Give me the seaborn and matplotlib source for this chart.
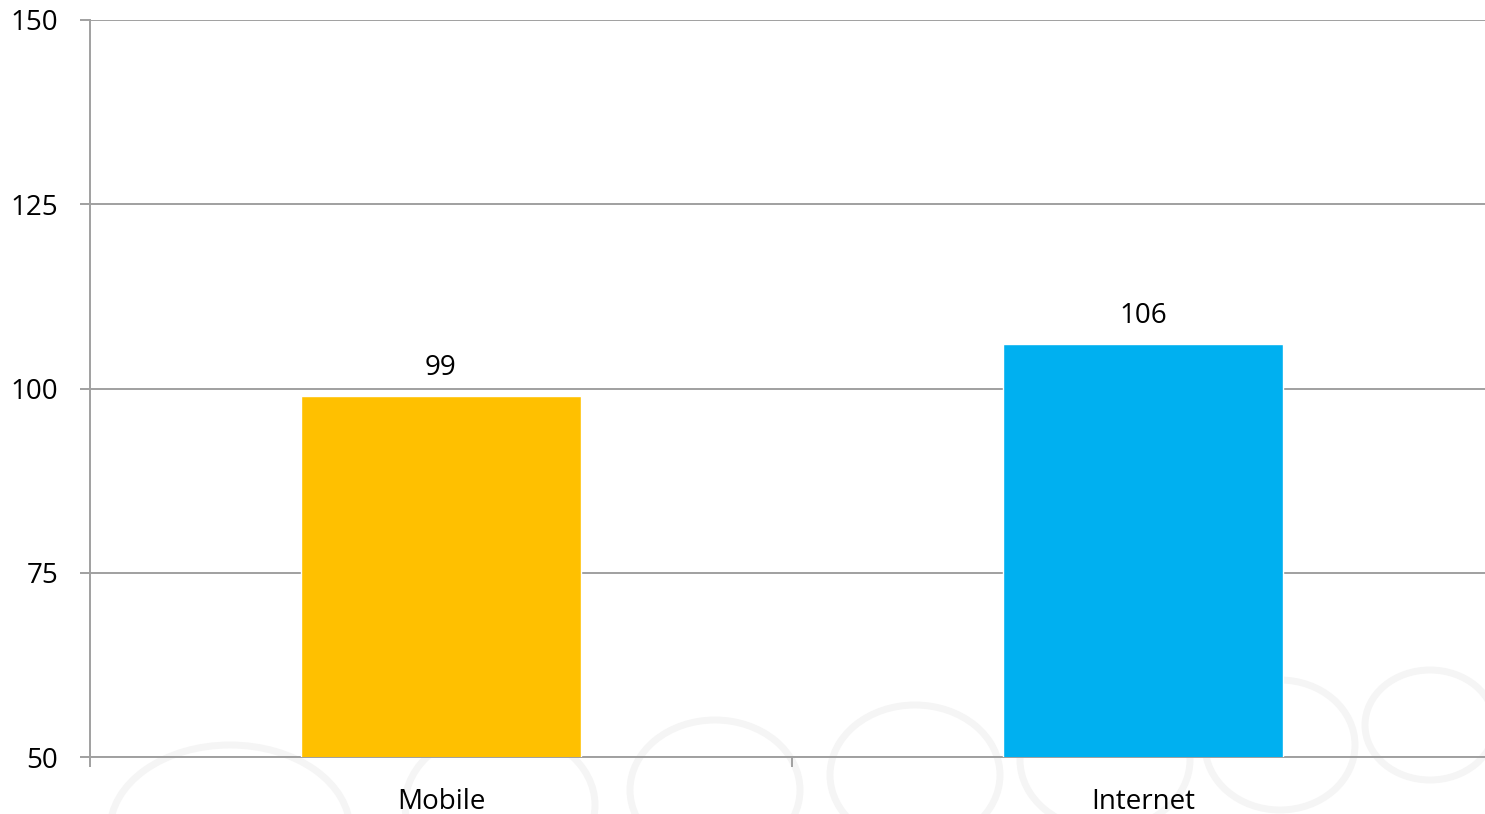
import pandas as pd
import matplotlib.pyplot as plt
import seaborn as sns
from matplotlib.patches import Ellipse

# datos
categories = ["Mobile", "Internet"]
values = [99, 106]
colors = ["#FFC000", "#00B0F0"]
yticks = [50, 75, 100, 125, 150]

df = pd.DataFrame({"category": categories, "value": values})

sns.set_style("white")
plt.rcParams["font.family"] = ["Open Sans", "DejaVu Sans"]

fig = plt.figure(figsize=(14.85, 8.14), dpi=100)
ax = fig.add_axes([90 / 1485, 1 - 757 / 814, (1494 - 90) / 1485, (757 - 20) / 814])
ax.set_facecolor("none")

# anillos tenues del fondo
rings = [(230, 830, 240, 170), (500, 805, 190, 150), (715, 790, 170, 140),
         (915, 775, 170, 140), (1105, 760, 170, 140), (1280, 745, 150, 130),
         (1430, 725, 130, 110)]
for cx, cy, w, h in rings:
    e = Ellipse((cx / 1485, 1 - cy / 814), w / 1485, h / 814,
                transform=fig.transFigure, fill=False, edgecolor="#F5F5F5",
                linewidth=5, zorder=-1)
    fig.patches.append(e)

sns.barplot(data=df, x="category", y="value", hue="category",
            palette=colors, width=0.40, legend=False, ax=ax, zorder=3,
            saturation=1)

for c in ax.containers:
    ax.bar_label(c, fmt="%d", padding=10, fontsize=20, color="black")

grey = "#A0A0A0"
ax.set_ylim(50, 150)
ax.set_xlim(-0.5, 1.5)
ax.set_yticks(yticks)
ax.set_yticklabels([str(t) for t in yticks], fontsize=20)
ax.yaxis.grid(True, color=grey, linewidth=1.4, zorder=0)
ax.set_axisbelow(True)

ax.tick_params(axis="y", direction="out", length=7, width=1.4, color=grey, pad=16, left=True,
               labelcolor="black")
ax.tick_params(axis="x", which="major", length=0, pad=22, labelsize=20, labelcolor="black")
ax.set_xticks([-0.5, 0.5], minor=True)
ax.tick_params(axis="x", which="minor", direction="out", length=7, width=1.4, color=grey, bottom=True)

for s in ["top", "right"]:
    ax.spines[s].set_visible(False)
for s in ["left", "bottom"]:
    ax.spines[s].set_color(grey)
    ax.spines[s].set_linewidth(1.4)

ax.set_xlabel("")
ax.set_ylabel("")

plt.savefig("out.png", dpi=100)
